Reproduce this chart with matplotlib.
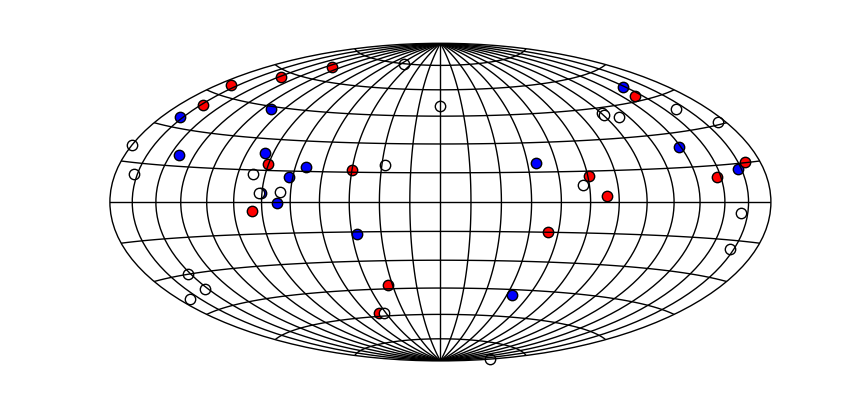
import numpy as np
import matplotlib
matplotlib.use('Agg')
import matplotlib.pyplot as plt

# galactic coordinates in degrees
blueLon = [-167.2, -113.7, -144.5, -94.7, -69.6, -76.9, -90.6, -81.9, 147.9, 49.5, 133.5, 162.5, -42.5, 48.0]
blueLat = [34.0, 43.8, 19.7, 23.1, 17.4, 12.3, 4.3, -0.2, 51.6, 19.5, 23.8, 12.8, -16.2, -47.7]
redLon = [-169.8, -148.8, -129.4, -163.8, -90.3, -44.9, -95.5, 144.0, 75.4, 83.6, 147.7, 169.6, -33.0, -50.8, 54.7]
redLat = [49.1, 57.7, 66.8, 40.2, 18.1, 16.2, -4.1, 47.1, 12.4, 3.1, 10.3, 15.1, -43.2, -58.0, -14.7]
whiteLon = [-56.1, -179.8, -167.6, -96.8, -28.5, -91.5, -80.7, -0.1, 105.3, 106.0, 113.6, 158.1, 174.8, 71.6, 160.3, -151.6, -152.4, -171.9, -47.2, 162.2, 179.5]
whiteLat = [75.0, 20.9, 10.9, 13.2, 19.1, 4.5, 4.6, 50.6, 42.2, 41.6, 39.8, 39.0, 31.0, 8.2, -4.2, -29.9, -36.9, -38.7, -58.5, -18.3, -81.4]

def scatterDeg(ax, lon, lat, color):
	ax.scatter(np.radians(lon), np.radians(lat), s=56, c=color, edgecolors='k', linewidths=1, clip_on=False)

def main():
	fig = plt.figure(figsize=(8.6, 4.07), dpi=100)
	ax = fig.add_axes([109.9/860, 46.1/407, 661/860, 317.6/407], projection='hammer')
	ax.set_aspect('auto')

	scatterDeg(ax, blueLon, blueLat, 'b')
	scatterDeg(ax, redLon, redLat, 'r')
	scatterDeg(ax, whiteLon, whiteLat, 'w')

	ax.set_longitude_grid(15)
	ax.set_latitude_grid(15)
	ax.set_longitude_grid_ends(90)
	ax.grid(True, color='k', linestyle='-', linewidth=1)
	ax.spines['geo'].set_linewidth(1)
	ax.set_xticklabels([])
	ax.set_yticklabels([])
	fig.savefig('out.png', dpi=100)

if __name__ == '__main__':
	main()
